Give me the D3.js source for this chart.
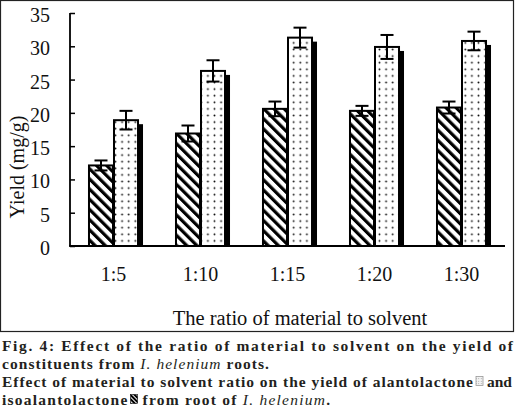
<!DOCTYPE html>
<html><head><meta charset="utf-8">
<script src="https://cdn.jsdelivr.net/npm/d3@7"></script>
<style>
html,body{margin:0;padding:0;background:#fff;}
svg{display:block;}
</style></head>
<body>
<script>
const categories = ["1:5", "1:10", "1:15", "1:20", "1:30"];
const isoValues = [12.1, 16.9, 20.6, 20.3, 20.8];   // isoalantolactone (hatched)
const isoErrors = [0.75, 1.2, 1.1, 0.75, 0.9];
const alaValues = [18.9, 26.3, 31.3, 29.9, 30.8];   // alantolactone (dotted)
const alaErrors = [1.4, 1.6, 1.5, 1.8, 1.4];
const yTicks = [0, 5, 10, 15, 20, 25, 30, 35];
const yLabel = "Yield (mg/g)";
const xLabel = "The ratio of material to solvent";

const W = 515, H = 420;
const FONT = "'Liberation Serif', 'Times New Roman', serif";
const svg = d3.select("body").append("svg").attr("width", W).attr("height", H);
const defs = svg.append("defs");

const hatch = defs.append("pattern").attr("id", "hatch").attr("patternUnits", "userSpaceOnUse")
  .attr("width", 7.2).attr("height", 7.2).attr("patternTransform", "rotate(-45)");
hatch.append("rect").attr("width", 7.2).attr("height", 7.2).attr("fill", "#fff");
hatch.append("rect").attr("width", 3.2).attr("height", 7.2).attr("fill", "#000");

const dots = defs.append("pattern").attr("id", "dots").attr("patternUnits", "userSpaceOnUse")
  .attr("width", 6.6).attr("height", 6.6);
dots.append("rect").attr("width", 6.6).attr("height", 6.6).attr("fill", "#fff");
dots.append("circle").attr("cx", 3.3).attr("cy", 3.3).attr("r", 0.95).attr("fill", "#111");

const smallHatch = defs.append("pattern").attr("id", "smallHatch").attr("patternUnits", "userSpaceOnUse")
  .attr("width", 3).attr("height", 3).attr("patternTransform", "rotate(-45)");
smallHatch.append("rect").attr("width", 3).attr("height", 3).attr("fill", "#000");
smallHatch.append("rect").attr("width", 1).attr("height", 3).attr("fill", "#fff");

const smallDots = defs.append("pattern").attr("id", "smallDots").attr("patternUnits", "userSpaceOnUse")
  .attr("width", 2.5).attr("height", 2.5);
smallDots.append("rect").attr("width", 2.5).attr("height", 2.5).attr("fill", "#f2f2f2");
smallDots.append("circle").attr("cx", 1.25).attr("cy", 1.25).attr("r", 0.5).attr("fill", "#888");

// frame
svg.append("rect").attr("x", 0.5).attr("y", 0.5).attr("width", 513).attr("height", 331)
  .attr("fill", "none").attr("stroke", "#222").attr("stroke-width", 1.2);

const x0 = d3.scaleBand().domain(categories).range([70, 505]).paddingInner(0.425).paddingOuter(0.2125);
const x1 = d3.scaleBand().domain(["iso", "ala"]).range([0, x0.bandwidth()]);
const y = d3.scaleLinear().domain([0, 35]).range([246, 13]);

const series = [
  {key: "iso", values: isoValues, errors: isoErrors, fill: "url(#hatch)"},
  {key: "ala", values: alaValues, errors: alaErrors, fill: "url(#dots)"}
];

const g = svg.append("g");
// shadows
series.forEach(s => {
  g.selectAll(null).data(categories).enter().append("rect")
    .attr("x", c => x0(c) + x1(s.key) + 4.5)
    .attr("y", (c, i) => y(s.values[i]) + 4)
    .attr("width", x1.bandwidth())
    .attr("height", (c, i) => y(0) - y(s.values[i]) - 4)
    .attr("fill", "#000");
});
// bars
series.forEach(s => {
  g.selectAll(null).data(categories).enter().append("rect")
    .attr("x", c => x0(c) + x1(s.key) + 0.5)
    .attr("y", (c, i) => y(s.values[i]))
    .attr("width", x1.bandwidth() - 1)
    .attr("height", (c, i) => y(0) - y(s.values[i]))
    .attr("fill", s.fill).attr("stroke", "#000").attr("stroke-width", 2);
});
// error bars
series.forEach(s => {
  categories.forEach((c, i) => {
    const cx = x0(c) + x1(s.key) + x1.bandwidth() / 2;
    const t = y(s.values[i] + s.errors[i]), b = y(s.values[i] - s.errors[i]);
    g.append("line").attr("x1", cx).attr("x2", cx).attr("y1", t).attr("y2", b)
      .attr("stroke", "#000").attr("stroke-width", 2);
    [t, b].forEach(yy => g.append("line").attr("x1", cx - 6.5).attr("x2", cx + 6.5)
      .attr("y1", yy).attr("y2", yy).attr("stroke", "#000").attr("stroke-width", 2));
  });
});

// axes
const yAxis = svg.append("g").attr("transform", "translate(70,0)")
  .call(d3.axisRight(y).tickValues(yTicks).tickSize(5).tickFormat(""));
yAxis.select(".domain").attr("stroke", "#000").attr("stroke-width", 1.8).attr("d", "M0," + y(35) + "V" + y(0));
yAxis.selectAll(".tick line").attr("stroke", "#000").attr("stroke-width", 1.5);

svg.append("g").selectAll("text").data(yTicks).enter().append("text")
  .attr("x", 50).attr("y", d => y(d) + 9)
  .attr("text-anchor", "end")
  .attr("font-family", FONT).attr("font-size", 20).attr("fill", "#111")
  .text(d => d);

const xAxis = svg.append("g").attr("transform", "translate(0," + y(0) + ")")
  .call(d3.axisBottom(x0).tickSize(0).tickPadding(0));
xAxis.select(".domain").attr("stroke", "#000").attr("stroke-width", 1.8).attr("d", "M69.1,0H505");
xAxis.selectAll(".tick text")
  .attr("font-family", FONT).attr("font-size", 20).attr("fill", "#111")
  .attr("dy", 0).attr("y", 35);

svg.append("text").attr("x", 300).attr("y", 325).attr("text-anchor", "middle")
  .attr("font-family", FONT).attr("font-size", 20.5).attr("fill", "#111")
  .text(xLabel);

svg.append("text").attr("transform", "translate(24,167) rotate(-90)").attr("text-anchor", "middle")
  .attr("font-family", FONT).attr("font-size", 20).attr("fill", "#111")
  .text(yLabel);

// caption
const capColor = "#231f20";
const CAP = 15.5;
function capText(xx, yy) {
  return svg.append("text").attr("x", xx).attr("y", yy)
    .attr("font-family", FONT).attr("font-size", CAP).attr("font-weight", "bold").attr("fill", capColor);
}
const L = [351, 369, 387, 405];

capText(2, L[0]).attr("textLength", 511).attr("lengthAdjust", "spacing")
  .text("Fig. 4: Effect of the ratio of material to solvent on the yield of");

// line 2, stretched to the reference width
const l2 = capText(2, L[1]);
l2.append("tspan").text("constituents from ");
l2.append("tspan").attr("font-style", "italic").attr("font-weight", "normal").text("I. helenium");
l2.append("tspan").text(" roots.");
const l2w = l2.node().getComputedTextLength();
l2.attr("letter-spacing", (268 - l2w) / 36);

// line 3
const andT = capText(512, L[2]).attr("text-anchor", "end").text("and");
const andW = andT.node().getComputedTextLength();
const glyphX = 512 - andW - 4 - 7;
svg.append("rect").attr("x", glyphX).attr("y", L[2] - 10.5).attr("width", 7).attr("height", 9)
  .attr("fill", "url(#smallDots)").attr("stroke", "#999").attr("stroke-width", 0.8);
capText(2, L[2]).attr("textLength", glyphX - 3 - 2).attr("lengthAdjust", "spacing")
  .text("Effect of material to solvent ratio on the yield of alantolactone");

// line 4
const p1 = capText(2, L[3]).text("isoalantolactone");
const l4 = capText(0, L[3]);
l4.append("tspan").text("from root of ");
l4.append("tspan").attr("font-style", "italic").attr("font-weight", "normal").text("I. helenium");
l4.append("tspan").text(".");
const nat = p1.node().getComputedTextLength() + l4.node().getComputedTextLength() + 16;
const ls4 = (332 - 2 - nat) / 40;
p1.attr("letter-spacing", ls4);
l4.attr("letter-spacing", ls4);
const w1 = p1.node().getComputedTextLength();
svg.append("rect").attr("x", 2 + w1 + 2).attr("y", L[3] - 10.5).attr("width", 7).attr("height", 9)
  .attr("fill", "url(#smallHatch)").attr("stroke", "#000").attr("stroke-width", 0.6);
l4.attr("x", 2 + w1 + 2 + 7 + 5);
</script>
</body></html>
